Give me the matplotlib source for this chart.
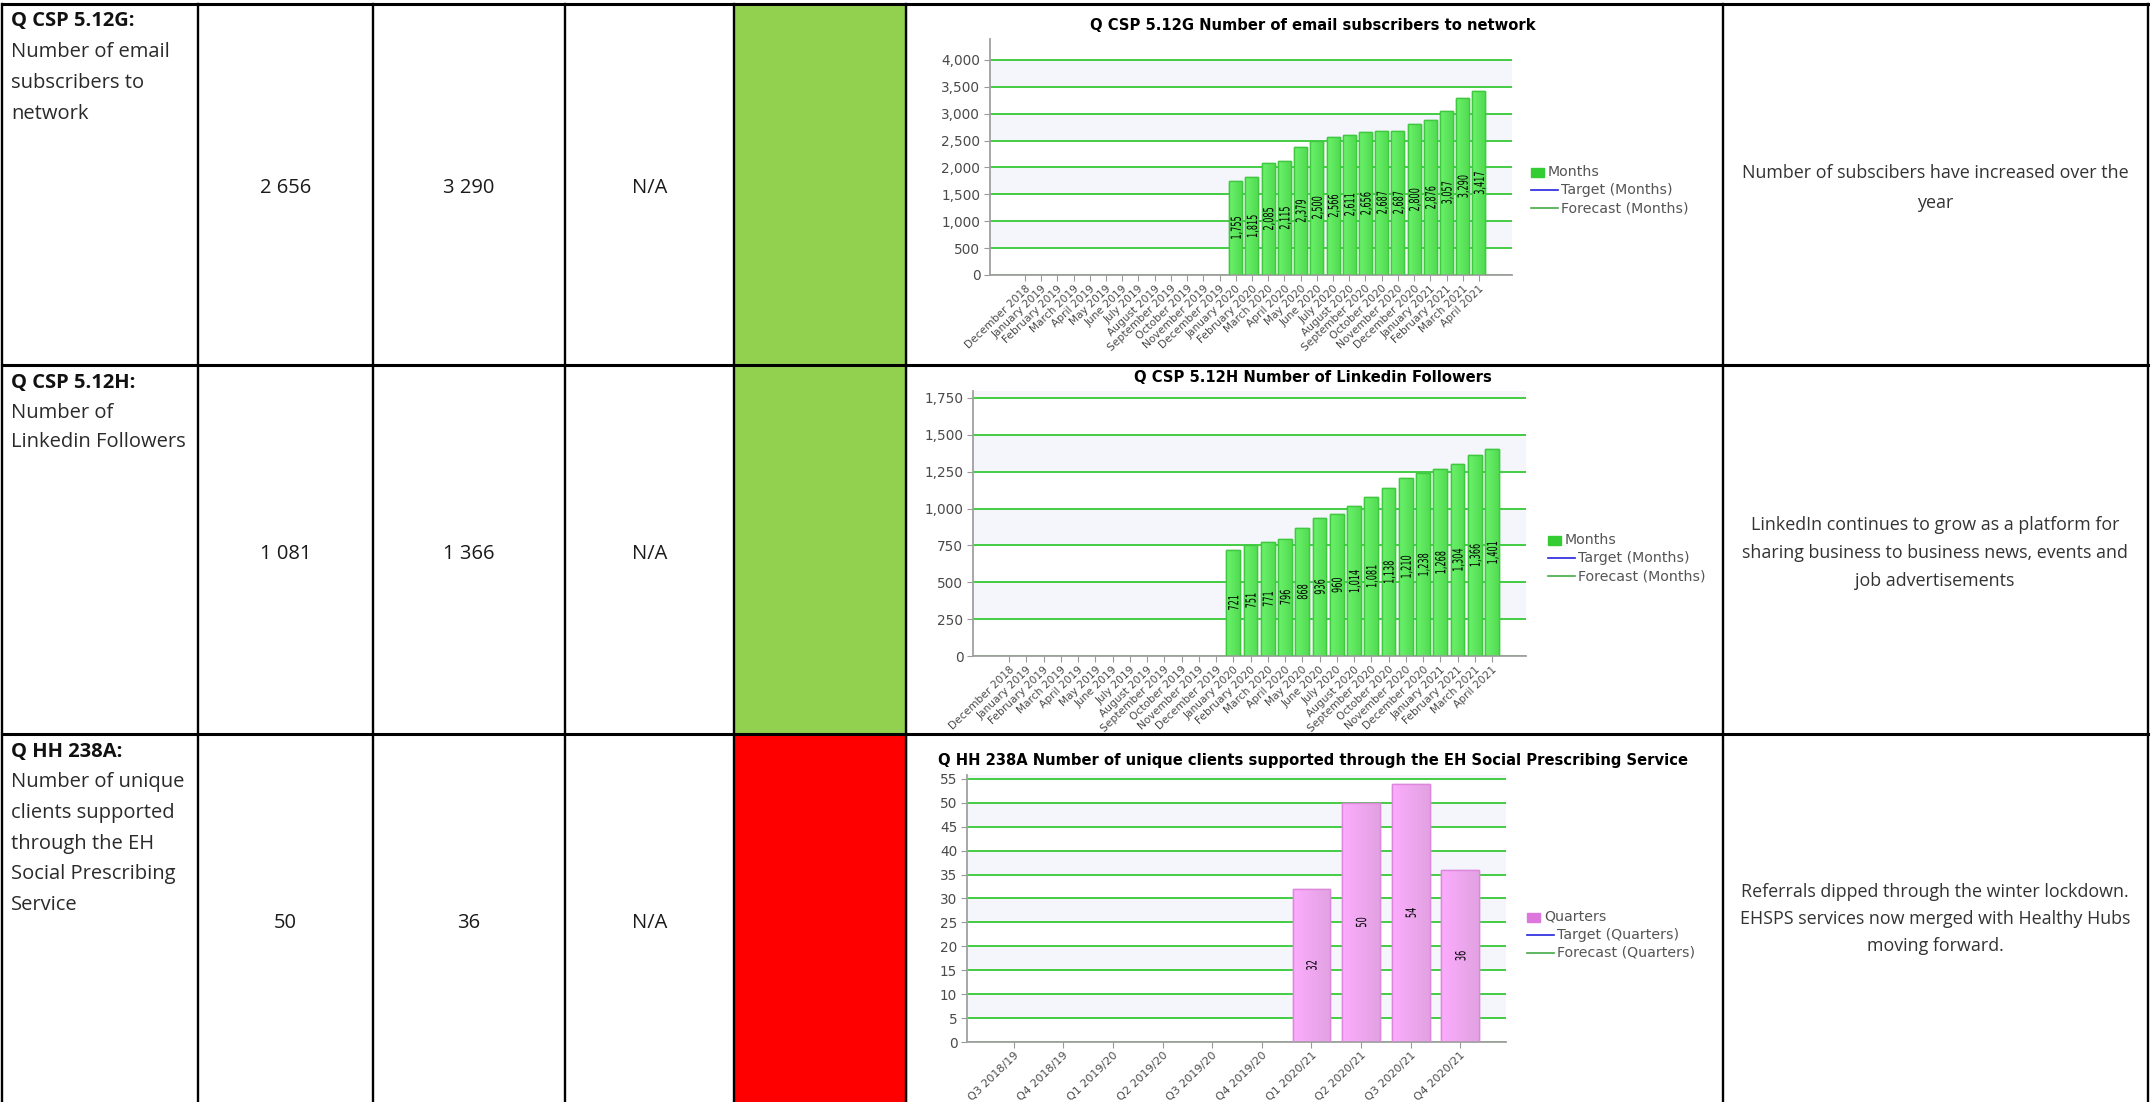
import numpy as np
import matplotlib.pyplot as plt
import matplotlib.transforms as mtrans
from matplotlib.patches import Rectangle, PathPatch
from matplotlib.lines import Line2D
from matplotlib.colors import LinearSegmentedColormap
from matplotlib.textpath import TextPath
from matplotlib.font_manager import FontProperties

W, H = 2153, 1102
fig = plt.figure(figsize=(W / 100, H / 100), dpi=100)

# ---- data ----
months = ['December 2018', 'January 2019', 'February 2019', 'March 2019', 'April 2019',
          'May 2019', 'June 2019', 'July 2019', 'August 2019', 'September 2019',
          'October 2019', 'November 2019', 'December 2019', 'January 2020', 'February 2020',
          'March 2020', 'April 2020', 'May 2020', 'June 2020', 'July 2020', 'August 2020',
          'September 2020', 'October 2020', 'November 2020', 'December 2020',
          'January 2021', 'February 2021', 'March 2021', 'April 2021']
month_first = 13  # January 2020 is the first month with data
email_subs = [1755, 1815, 2085, 2115, 2379, 2500, 2566, 2611, 2656, 2687, 2687,
              2800, 2876, 3057, 3290, 3417]
linkedin = [721, 751, 771, 796, 868, 936, 960, 1014, 1081, 1138, 1210, 1238,
            1268, 1304, 1366, 1401]

quarters = ['Q3 2018/19', 'Q4 2018/19', 'Q1 2019/20', 'Q2 2019/20', 'Q3 2019/20',
            'Q4 2019/20', 'Q1 2020/21', 'Q2 2020/21', 'Q3 2020/21', 'Q4 2020/21']
quarter_first = 6
clients = [32, 50, 54, 36]

codes = ['Q CSP 5.12G:', 'Q CSP 5.12H:', 'Q HH 238A:']
descriptions = [['Number of email', 'subscribers to', 'network'],
                ['Number of', 'Linkedin Followers'],
                ['Number of unique', 'clients supported', 'through the EH',
                 'Social Prescribing', 'Service']]
col_a = ['2 656', '1 081', '50']
col_b = ['3 290', '1 366', '36']
col_c = ['N/A', 'N/A', 'N/A']
status = ['#92d050', '#92d050', '#ff0000']
comments = [['Number of subscibers have increased over the', 'year'],
            ['LinkedIn continues to grow as a platform for',
             'sharing business to business news, events and',
             'job advertisements'],
            ['Referrals dipped through the winter lockdown.',
             'EHSPS services now merged with Healthy Hubs',
             'moving forward.']]

# ---- table layout (pixels) ----
col_x = [2, 198, 373, 565, 734, 906, 1723, 2148]
row_y = [4, 365, 734, 1102]

tab = fig.add_axes([0, 0, 1, 1])
tab.set_xlim(0, W)
tab.set_ylim(H, 0)
tab.axis('off')

for r in range(3):
    tab.add_patch(Rectangle((col_x[4], row_y[r]), col_x[5] - col_x[4],
                            row_y[r + 1] - row_y[r], color=status[r], zorder=1))
for x in col_x:
    tab.plot([x, x], [row_y[0], H], color='black', lw=1.7, zorder=3)
for y in row_y[:3]:
    tab.plot([col_x[0], col_x[-1]], [y, y], color='black', lw=2.2, zorder=3)

tfont = 'Open Sans'
first_base = [26, 388, 757]
line_gap = [31, 29.5, 30.5]
num_base = [193, 559, 928]
comment_base = [[178, 208], [530, 558, 586], [897, 924, 951]]
for r in range(3):
    tab.text(11, first_base[r], codes[r], family=tfont, fontsize=14.5,
             weight='bold', color='#111111', va='baseline')
    for k, line in enumerate(descriptions[r]):
        tab.text(11, first_base[r] + (k + 1) * line_gap[r], line, family=tfont,
                 fontsize=14.5, color='#2a2a2a', va='baseline')
    for c, vals in enumerate([col_a, col_b, col_c]):
        xc = (col_x[c + 1] + col_x[c + 2]) / 2
        tab.text(xc, num_base[r], vals[r], family=tfont, fontsize=14.5,
                 color='#1a1a1a', ha='center', va='baseline')
    for line, yb in zip(comments[r], comment_base[r]):
        tab.text(1935, yb, line, family=tfont, fontsize=12.9, color='#333333',
                 ha='center', va='baseline')


# ---- bar charts ----
def px_axes(x0, y0, x1, y1):
    return fig.add_axes([x0 / W, 1 - y1 / H, (x1 - x0) / W, (y1 - y0) / H])


label_prop = FontProperties(family='DejaVu Sans')


def narrow_label(ax, x, y, s, size=14, squeeze=0.58):
    # value text squeezed along its reading direction and stood on end
    tp = TextPath((0, 0), s, size=size, prop=label_prop)
    bb = tp.get_extents()
    tr = (mtrans.Affine2D().translate(-(bb.x0 + bb.x1) / 2, -size * 0.36)
          .scale(squeeze, 1).rotate_deg(90)
          + mtrans.ScaledTranslation(x, y, ax.transData))
    fig.add_artist(PathPatch(tp, transform=tr, facecolor='black', lw=0, zorder=4))


def bar_chart(box, cats, first, vals, top, step, xlim, width, shades, edge,
              xfs):
    ax = px_axes(*box)
    ax.set_facecolor('white')
    n = int(np.ceil(top / step))
    for k in range(1, n, 2):
        ax.axhspan(k * step, (k + 1) * step, color='#f5f6fc', lw=0, zorder=0)
    ax.set_yticks(np.arange(0, top, step))
    ax.set_yticklabels(['{:,}'.format(int(v)) for v in np.arange(0, top, step)])
    ax.yaxis.grid(True, color='#44cc44', lw=1.4)
    ax.set_axisbelow(True)

    cmap = LinearSegmentedColormap.from_list('bar', shades)
    grad = np.linspace(0, 1, 32).reshape(1, -1)
    xs = np.arange(first, first + len(vals))
    bars = ax.bar(xs, vals, width=width, color=shades[0], edgecolor=edge,
                  lw=1.0, zorder=2)
    for b in bars:
        im = ax.imshow(grad, extent=[b.get_x(), b.get_x() + b.get_width(), 0,
                                     b.get_height()],
                       aspect='auto', cmap=cmap, zorder=2.5)
        im.set_clip_path(b)
        ax.add_patch(Rectangle((b.get_x(), 0), b.get_width(), b.get_height(),
                               fill=False, edgecolor=edge, lw=1.0, zorder=3))

    ax.set_xlim(*xlim)
    ax.set_ylim(0, top)
    for x, v in zip(xs, vals):
        narrow_label(ax, x, v / 2, '{:,}'.format(v))

    ax.set_xticks(range(len(cats)))
    ax.set_xticklabels(cats, rotation=44, ha='right', rotation_mode='anchor',
                       fontsize=xfs, color='#4a4a4a')
    ax.tick_params(axis='y', labelsize=9.8, labelcolor='#4a4a4a', length=4,
                   color='#999999', pad=3)
    ax.tick_params(axis='x', length=4, color='#999999', pad=2)
    for s in ['top', 'right']:
        ax.spines[s].set_visible(False)
    for s in ['left', 'bottom']:
        ax.spines[s].set_color('#a0a0a0')
        ax.spines[s].set_linewidth(1.3)
    return ax


green = ['#6cf26c', '#52dc52']
pink = ['#fcacfc', '#e2a2e2']

bar_chart((990, 39, 1512, 275), months, month_first, email_subs, 4390, 500,
          (-2.16, 30.04), 0.8, green, '#40c840', 7.7)
bar_chart((973, 391, 1526, 656), months, month_first, linkedin, 1797, 250,
          (-2.09, 29.97), 0.8, green, '#40c840', 7.7)
bar_chart((967, 775, 1506, 1042), quarters, quarter_first, clients, 55.8, 5,
          (-0.94, 9.92), 0.76, pink, '#dd88dd', 8.0)

# chart titles
titles = ['Q CSP 5.12G Number of email subscribers to network',
          'Q CSP 5.12H Number of Linkedin Followers',
          'Q HH 238A Number of unique clients supported through the EH Social Prescribing Service']
title_y = [26, 377, 760]
for t, y in zip(titles, title_y):
    tab.text(1313, y, t, ha='center', va='center', fontsize=10.6, weight='bold',
             color='black', zorder=5)

# legends
leg_x = [1531, 1548, 1527]
leg_y = [172, 540, 917]
leg_name = ['Months', 'Months', 'Quarters']
leg_col = ['#33cc33', '#33cc33', '#dd77dd']
for x, y, name, c in zip(leg_x, leg_y, leg_name, leg_col):
    tab.add_patch(Rectangle((x, y - 4.5), 13, 9, color=c, zorder=5))
    tab.text(x + 17, y, name, fontsize=10.2, color='#555555', va='center', zorder=5)
    tab.add_line(Line2D([x, x + 27], [y + 18, y + 18], color='#2222dd', lw=1.2, zorder=5))
    tab.text(x + 30, y + 18, 'Target (%s)' % name, fontsize=10.2, color='#555555',
             va='center', zorder=5)
    tab.add_line(Line2D([x, x + 27], [y + 36, y + 36], color='#44aa44', lw=1.2, zorder=5))
    tab.text(x + 30, y + 36, 'Forecast (%s)' % name, fontsize=10.2, color='#555555',
             va='center', zorder=5)

fig.savefig('out.png', dpi=100)
